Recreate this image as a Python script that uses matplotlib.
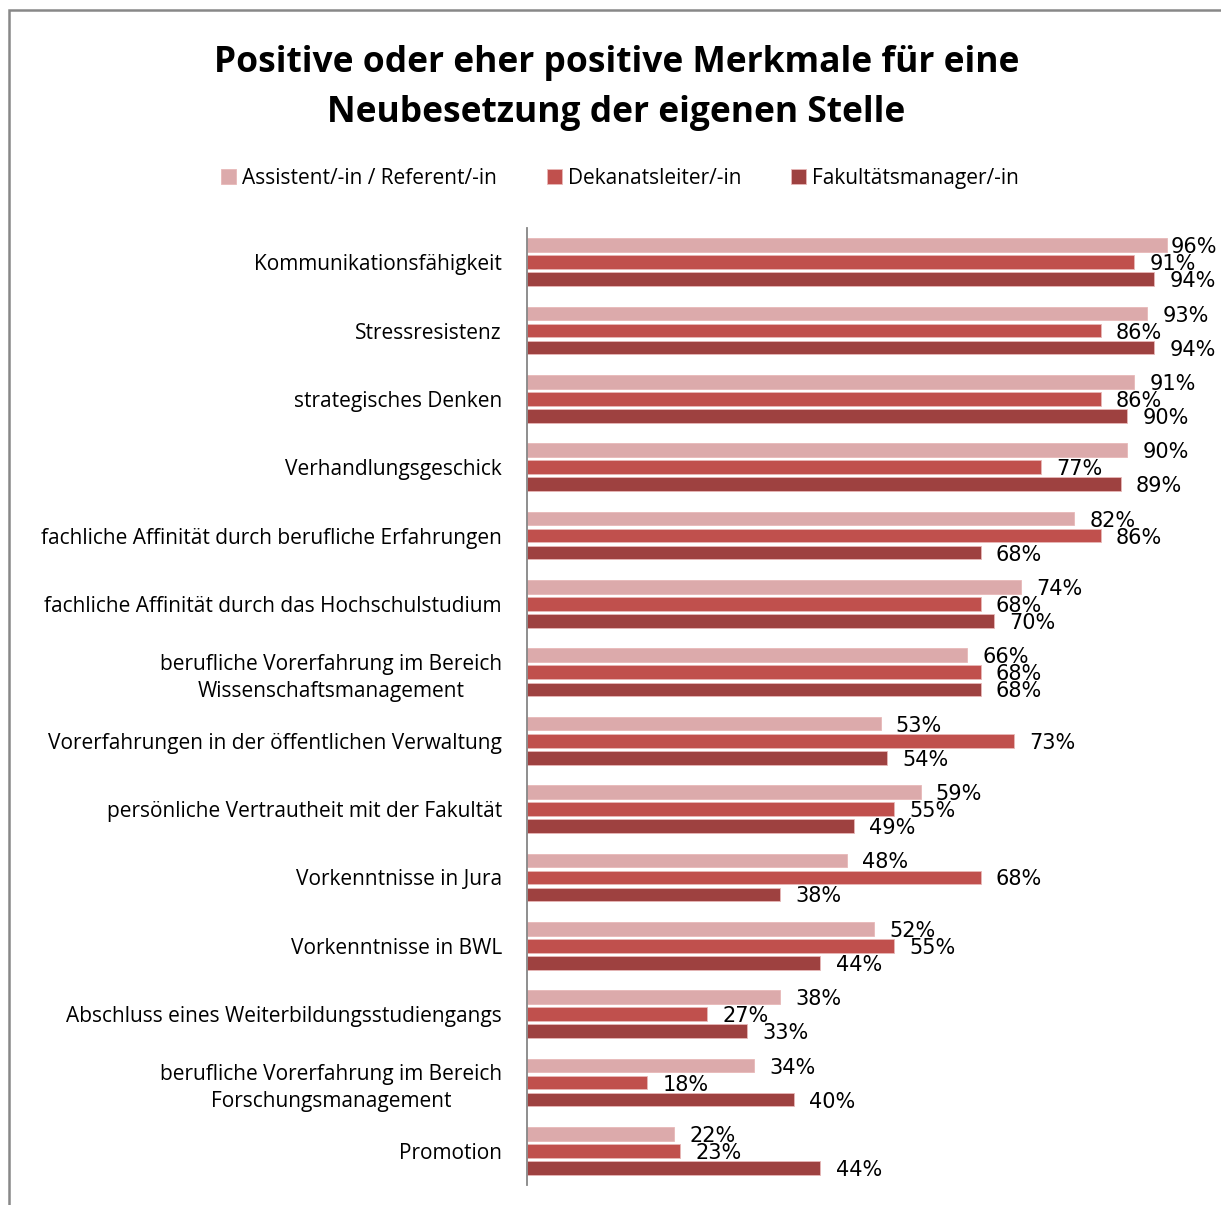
import numpy as np
import matplotlib.pyplot as plt
from matplotlib.patches import Rectangle

# categories (top to bottom) and values in percent
categories = [
    "Kommunikationsfähigkeit",
    "Stressresistenz",
    "strategisches Denken",
    "Verhandlungsgeschick",
    "fachliche Affinität durch berufliche Erfahrungen",
    "fachliche Affinität durch das Hochschulstudium",
    "berufliche Vorerfahrung im Bereich\nWissenschaftsmanagement",
    "Vorerfahrungen in der öffentlichen Verwaltung",
    "persönliche Vertrautheit mit der Fakultät",
    "Vorkenntnisse in Jura",
    "Vorkenntnisse in BWL",
    "Abschluss eines Weiterbildungsstudiengangs",
    "berufliche Vorerfahrung im Bereich\nForschungsmanagement",
    "Promotion",
]
assistent = [96, 93, 91, 90, 82, 74, 66, 53, 59, 48, 52, 38, 34, 22]
dekanat = [91, 86, 86, 77, 86, 68, 68, 73, 55, 68, 55, 27, 18, 23]
fakultaet = [94, 94, 90, 89, 68, 70, 68, 54, 49, 38, 44, 33, 40, 44]

series = [
    ("Assistent/-in / Referent/-in", assistent, "#dcaaab"),
    ("Dekanatsleiter/-in", dekanat, "#c0504d"),
    ("Fakultätsmanager/-in", fakultaet, "#9e4140"),
]

plt.rcParams['font.family'] = ['Open Sans', 'DejaVu Sans']

fig = plt.figure(figsize=(12.21, 12.05), dpi=100)
ax = fig.add_axes([527/1221, 1-1185/1205, (1194-527)/1221, (1185-228)/1205])

n = len(categories)
y = np.arange(n)
step = 0.249
bh = 0.2
for i, (name, vals, col) in enumerate(series):
    pos = y + (i - 1) * step
    ax.barh(pos, vals, height=bh, color=col, edgecolor="#e8b8b8", linewidth=0.6, label=name)
    for p, v in zip(pos, vals):
        off = 2.5 if v >= 95 else 11
        ax.annotate(f"{v}%", (v, p), xytext=(off, -1.5), textcoords="offset points",
                    va="center", ha="left", fontsize=15,
                    family=['Liberation Sans Narrow', 'DejaVu Sans Condensed', 'DejaVu Sans'])

ax.set_xlim(0, 100)
ax.set_ylim(n - 0.5, -0.5)
ax.set_yticks(y)
ax.set_yticklabels(categories, fontsize=15, multialignment="center", linespacing=1.4)
ax.tick_params(axis="y", length=0, pad=18)
ax.set_xticks([])
for s in ["top", "right", "bottom"]:
    ax.spines[s].set_visible(False)
ax.spines["left"].set_color("#868686")
ax.spines["left"].set_linewidth(1.3)

fig.text(0.505, 0.927, "Positive oder eher positive Merkmale für eine\nNeubesetzung der eigenen Stelle",
         ha="center", va="center", fontsize=25.5, fontweight="bold", linespacing=1.55)

handles, labels = ax.get_legend_handles_labels()
fig.legend(handles, labels, loc="center", bbox_to_anchor=(0.508, 0.852), ncol=3,
           frameon=False, fontsize=15, handlelength=0.7, handleheight=0.7,
           handletextpad=0.3, columnspacing=2.4)

# outer chart border (only left and top visible in the crop)
fig.add_artist(Rectangle((9/1221, -0.1), 1.2, 1.1 - 10/1205, transform=fig.transFigure,
                         fill=False, edgecolor="#888888", linewidth=1.8))

fig.savefig("out.png", dpi=100)
